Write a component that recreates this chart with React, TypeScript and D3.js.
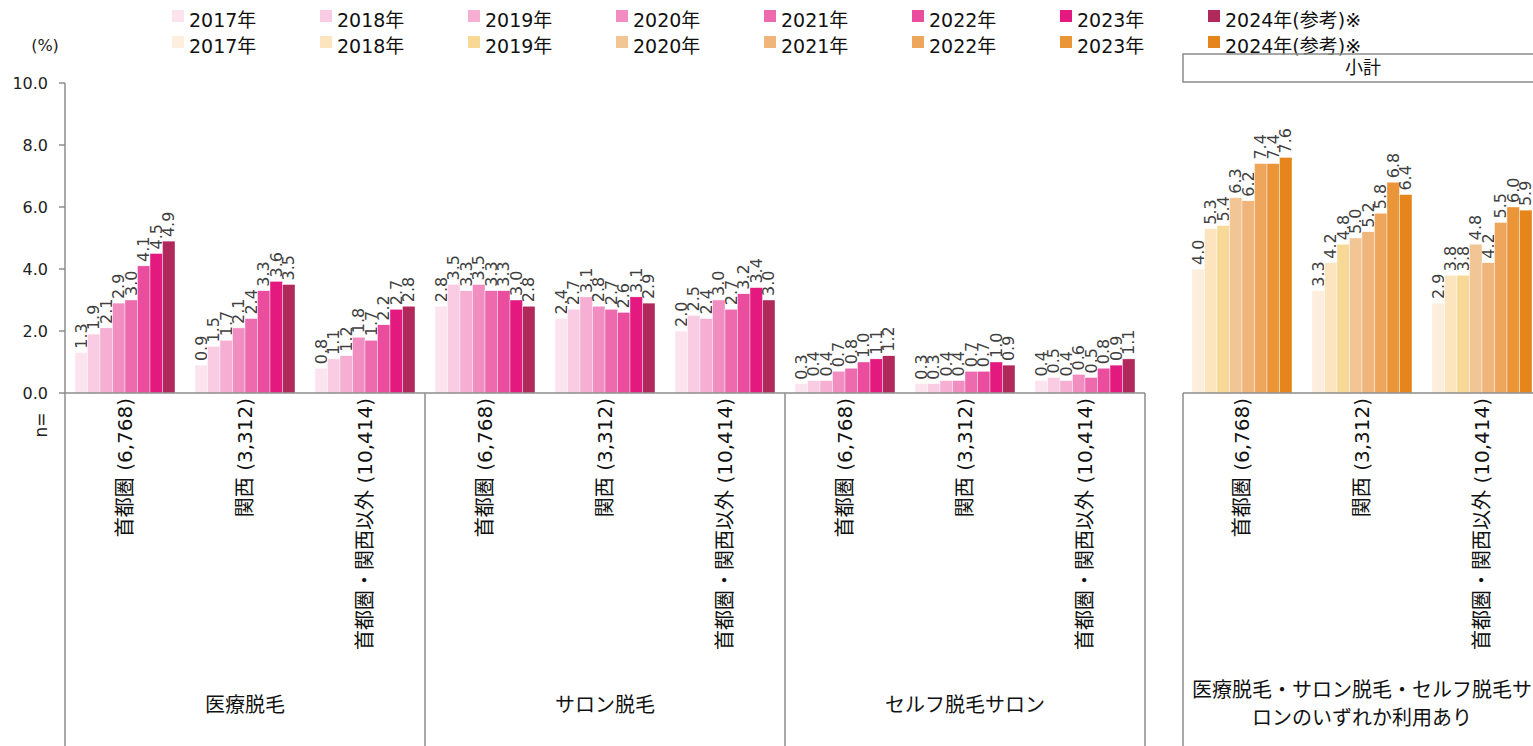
import React from 'react';
import * as d3 from 'd3';

// years shown in the legend (pink = per-service, orange = subtotal)
const years = ['2017年', '2018年', '2019年', '2020年', '2021年', '2022年', '2023年', '2024年(参考)※'];
const pinkColors = ['#FCE4EF', '#F9CCE3', '#F6AED3', '#F28DC2', '#EE6AAE', '#EA4C9E', '#E4197F', '#B0295A'];
const orangeColors = ['#FDEEDD', '#FCE5BE', '#F8D895', '#F2C595', '#F0B57B', '#EEA65C', '#E99538', '#E5851B'];

const regions = ['首都圏 (6,768)', '関西 (3,312)', '首都圏・関西以外 (10,414)'];
const services = ['医療脱毛', 'サロン脱毛', 'セルフ脱毛サロン'];

// values per region, one entry per year
const medical = [
  [1.3, 1.9, 2.1, 2.9, 3.0, 4.1, 4.5, 4.9],
  [0.9, 1.5, 1.7, 2.1, 2.4, 3.3, 3.6, 3.5],
  [0.8, 1.1, 1.2, 1.8, 1.7, 2.2, 2.7, 2.8],
];
const salon = [
  [2.8, 3.5, 3.3, 3.5, 3.3, 3.3, 3.0, 2.8],
  [2.4, 2.7, 3.1, 2.8, 2.7, 2.6, 3.1, 2.9],
  [2.0, 2.5, 2.4, 3.0, 2.7, 3.2, 3.4, 3.0],
];
const selfSalon = [
  [0.3, 0.4, 0.4, 0.7, 0.8, 1.0, 1.1, 1.2],
  [0.3, 0.3, 0.4, 0.4, 0.7, 0.7, 1.0, 0.9],
  [0.4, 0.5, 0.4, 0.6, 0.5, 0.8, 0.9, 1.1],
];
const subtotal = [
  [4.0, 5.3, 5.4, 6.3, 6.2, 7.4, 7.4, 7.6],
  [3.3, 4.2, 4.8, 5.0, 5.2, 5.8, 6.8, 6.4],
  [2.9, 3.8, 3.8, 4.8, 4.2, 5.5, 6.0, 5.9],
];
const yTicks = [0, 2, 4, 6, 8, 10];

const W = 1533;
const H = 746;
const FONT = '"DejaVu Sans", Verdana, "Noto Sans CJK JP", sans-serif';
const JP = '"Noto Sans CJK JP", "DejaVu Sans", sans-serif';
const LINE = '#8c8c8c';

const y = d3.scaleLinear().domain([0, 10]).range([393, 83]);

const mainKeys = services.flatMap((s) => regions.map((r) => s + '|' + r));
const xMain = d3.scaleBand().domain(mainKeys).range([65, 1145]).paddingInner(1 / 6).paddingOuter(1 / 12);
const xSub = d3.scaleBand().domain(regions).range([1182, 1542]).paddingInner(1 / 6).paddingOuter(1 / 12);
const xYear = d3.scaleBand().domain(years).range([0, xMain.bandwidth()]);

type Group = { x0: number; values: number[]; colors: string[]; label: string };

const mainGroups: Group[] = [medical, salon, selfSalon].flatMap((rows, si) =>
  rows.map((values, ri) => ({
    x0: xMain(services[si] + '|' + regions[ri]) as number,
    values,
    colors: pinkColors,
    label: regions[ri],
  }))
);
const subGroups: Group[] = subtotal.map((values, ri) => ({
  x0: xSub(regions[ri]) as number,
  values,
  colors: orangeColors,
  label: regions[ri],
}));

function Bars({ g }: { g: Group }) {
  const bw = xYear.bandwidth();
  const cx = g.x0 + xMain.bandwidth() / 2;
  return (
    <g>
      {g.values.map((v, i) => {
        const x = g.x0 + (xYear(years[i]) as number);
        return (
          <g key={i}>
            <rect x={x} y={y(v)} width={bw} height={y(0) - y(v)} fill={g.colors[i]} stroke="#fff" strokeWidth={0.4} />
            <text
              transform={`translate(${x + bw / 2},${y(v) - 4}) rotate(-90)`}
              dy="0.35em"
              fontSize={16}
              fill="#404040"
              fontFamily={FONT}
            >
              {v.toFixed(1)}
            </text>
          </g>
        );
      })}
      <text
        transform={`translate(${cx},398) rotate(-90)`}
        textAnchor="end"
        dy="0.36em"
        fontSize={20}
        fill="#111"
        fontFamily={FONT}
      >
        {g.label}
      </text>
    </g>
  );
}

export default function App() {
  const legendX = (i: number) => 172 + i * 148;
  return (
    <svg width={W} height={H} style={{ position: 'fixed', left: 0, top: 0, background: '#fff' }}>
      {/* legend, two rows */}
      {[pinkColors, orangeColors].map((cols, row) => (
        <g key={row} transform={`translate(0,${row === 0 ? 10 : 36})`}>
          {years.map((yr, i) => (
            <g key={yr} transform={`translate(${legendX(i)},0)`}>
              <rect width={12} height={12} fill={cols[i]} />
              <text x={17} y={10} dy="0.35em" fontSize={19} fontFamily={FONT} fill="#111">
                {yr}
              </text>
            </g>
          ))}
        </g>
      ))}

      <text x={45} y={45} textAnchor="middle" dy="0.35em" fontSize={16} fontFamily={FONT} fill="#222">
        (%)
      </text>

      {/* y axis */}
      <line x1={65} x2={65} y1={83} y2={H} stroke={LINE} strokeWidth={1.5} />
      {yTicks.map((t) => (
        <g key={t}>
          <line x1={59} x2={65} y1={y(t)} y2={y(t)} stroke={LINE} strokeWidth={1.5} />
          <text x={48} y={y(t)} dy="0.35em" textAnchor="end" fontSize={16} fontFamily={FONT} fill="#222">
            {t.toFixed(1)}
          </text>
        </g>
      ))}
      <text
        transform="translate(41,425) rotate(-90)"
        textAnchor="middle"
        dy="0.35em"
        fontSize={17}
        fontFamily={FONT}
        fill="#222"
      >
        n=
      </text>

      {mainGroups.map((g, i) => (
        <Bars key={i} g={g} />
      ))}
      <line x1={65} x2={1145} y1={393} y2={393} stroke={LINE} strokeWidth={1.5} />
      {services.map((s) => {
        const left = xMain(s + '|' + regions[0]) as number;
        const right = (xMain(s + '|' + regions[2]) as number) + xMain.bandwidth() + 10;
        return (
          <g key={s}>
            <line x1={right} x2={right} y1={393} y2={H} stroke={LINE} strokeWidth={1.5} />
            <text x={(left - 10 + right) / 2} y={705} dy="0.35em" textAnchor="middle" fontSize={20} fontFamily={JP} fill="#111">
              {s}
            </text>
          </g>
        );
      })}

      {/* subtotal panel */}
      <rect x={1183} y={54} width={370} height={28} fill="none" stroke={LINE} strokeWidth={1.5} />
      <text x={1363} y={68} dy="0.35em" textAnchor="middle" fontSize={18} fontFamily={JP} fill="#111">
        小計
      </text>
      {subGroups.map((g, i) => (
        <Bars key={i} g={g} />
      ))}
      <line x1={1183} x2={W} y1={393} y2={393} stroke={LINE} strokeWidth={1.5} />
      <line x1={1183} x2={1183} y1={393} y2={H} stroke={LINE} strokeWidth={1.5} />
      <text x={1362} y={690} dy="0.35em" textAnchor="middle" fontSize={20} fontFamily={JP} fill="#111">
        医療脱毛・サロン脱毛・セルフ脱毛サ
      </text>
      <text x={1362} y={718} dy="0.35em" textAnchor="middle" fontSize={20} fontFamily={JP} fill="#111">
        ロンのいずれか利用あり
      </text>
    </svg>
  );
}
